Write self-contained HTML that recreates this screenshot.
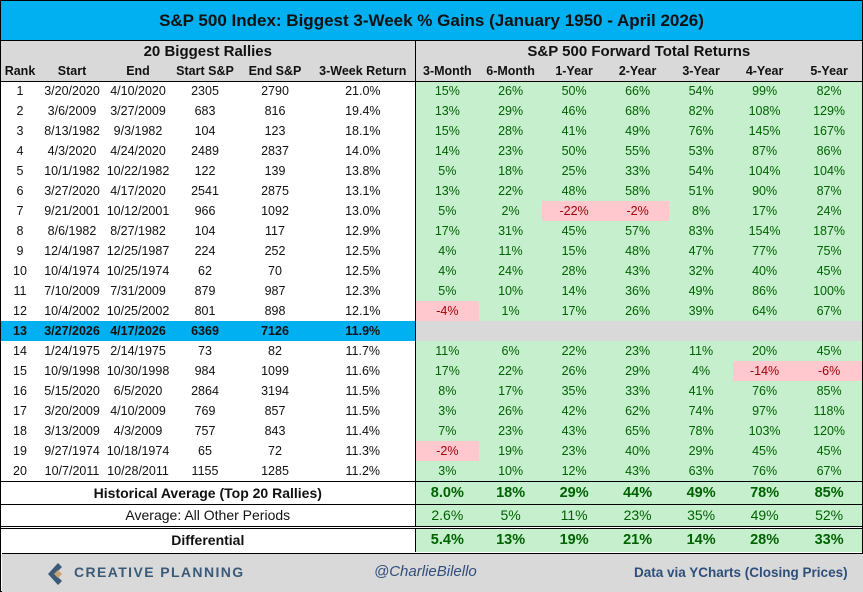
<!DOCTYPE html>
<html><head><style>
*{margin:0;padding:0;box-sizing:border-box}
body{width:863px;height:592px;overflow:hidden;background:#fff;font-family:"Liberation Sans",sans-serif;position:relative}
#wrap{position:absolute;left:0;top:0;width:863px;height:592px;border:1px solid #000}
.title{position:absolute;left:0;top:0;width:861px;height:40px;background:#00B0F0;border-bottom:1px solid #000;font-weight:bold;font-size:17px;text-align:center;line-height:40px;color:#111}
table{position:absolute;left:0;border-collapse:collapse;table-layout:fixed}
td{text-align:center;font-size:12.5px;height:20px;padding:0;white-space:nowrap;overflow:hidden;color:#111}
.g{background:#C6EFCE;color:#006100}
.r{background:#FFC7CE;color:#9C0006}
.h1 td{background:#D9D9D9;font-weight:bold;font-size:15px;height:21px}
.h2 td{background:#D9D9D9;font-weight:bold;font-size:12.5px;height:19px;border-bottom:1px solid #000}
.hl td.l{background:#00B0F0;font-weight:bold}
.hl td.gr{background:#D9D9D9}
.sep{border-left:1px solid #000}
.sum td{height:23px;font-size:14px;border-top:1px solid #000}
.b td{font-weight:bold}
.b td.g{font-size:14.5px}
.dbl td{border-top:3px double #000;height:25px}
.foot{position:absolute;left:1px;top:552px;width:861px;height:39px;background:#D9D9D9;border-top:1px solid #000}
</style></head><body><div id="wrap">
<div class="title">S&amp;P 500 Index: Biggest 3-Week % Gains (January 1950 - April 2026)</div>
<table style="top:40px;width:861px">
<colgroup><col style="width:38px"><col style="width:66px"><col style="width:66px"><col style="width:68px"><col style="width:72px"><col style="width:104px"><col style="width:64px"><col style="width:63px"><col style="width:64px"><col style="width:63px"><col style="width:64px"><col style="width:63px"><col style="width:66px"></colgroup>
<tr class="h1"><td colspan="6">20 Biggest Rallies</td><td colspan="7" class="sep">S&amp;P 500 Forward Total Returns</td></tr>
<tr class="h2"><td>Rank</td><td>Start</td><td>End</td><td>Start S&amp;P</td><td>End S&amp;P</td><td>3-Week Return</td><td class="sep">3-Month</td><td>6-Month</td><td>1-Year</td><td>2-Year</td><td>3-Year</td><td>4-Year</td><td>5-Year</td></tr>
<tr><td>1</td><td>3/20/2020</td><td>4/10/2020</td><td>2305</td><td>2790</td><td>21.0%</td><td class="g sep">15%</td><td class="g">26%</td><td class="g">50%</td><td class="g">66%</td><td class="g">54%</td><td class="g">99%</td><td class="g">82%</td></tr>
<tr><td>2</td><td>3/6/2009</td><td>3/27/2009</td><td>683</td><td>816</td><td>19.4%</td><td class="g sep">13%</td><td class="g">29%</td><td class="g">46%</td><td class="g">68%</td><td class="g">82%</td><td class="g">108%</td><td class="g">129%</td></tr>
<tr><td>3</td><td>8/13/1982</td><td>9/3/1982</td><td>104</td><td>123</td><td>18.1%</td><td class="g sep">15%</td><td class="g">28%</td><td class="g">41%</td><td class="g">49%</td><td class="g">76%</td><td class="g">145%</td><td class="g">167%</td></tr>
<tr><td>4</td><td>4/3/2020</td><td>4/24/2020</td><td>2489</td><td>2837</td><td>14.0%</td><td class="g sep">14%</td><td class="g">23%</td><td class="g">50%</td><td class="g">55%</td><td class="g">53%</td><td class="g">87%</td><td class="g">86%</td></tr>
<tr><td>5</td><td>10/1/1982</td><td>10/22/1982</td><td>122</td><td>139</td><td>13.8%</td><td class="g sep">5%</td><td class="g">18%</td><td class="g">25%</td><td class="g">33%</td><td class="g">54%</td><td class="g">104%</td><td class="g">104%</td></tr>
<tr><td>6</td><td>3/27/2020</td><td>4/17/2020</td><td>2541</td><td>2875</td><td>13.1%</td><td class="g sep">13%</td><td class="g">22%</td><td class="g">48%</td><td class="g">58%</td><td class="g">51%</td><td class="g">90%</td><td class="g">87%</td></tr>
<tr><td>7</td><td>9/21/2001</td><td>10/12/2001</td><td>966</td><td>1092</td><td>13.0%</td><td class="g sep">5%</td><td class="g">2%</td><td class="r">-22%</td><td class="r">-2%</td><td class="g">8%</td><td class="g">17%</td><td class="g">24%</td></tr>
<tr><td>8</td><td>8/6/1982</td><td>8/27/1982</td><td>104</td><td>117</td><td>12.9%</td><td class="g sep">17%</td><td class="g">31%</td><td class="g">45%</td><td class="g">57%</td><td class="g">83%</td><td class="g">154%</td><td class="g">187%</td></tr>
<tr><td>9</td><td>12/4/1987</td><td>12/25/1987</td><td>224</td><td>252</td><td>12.5%</td><td class="g sep">4%</td><td class="g">11%</td><td class="g">15%</td><td class="g">48%</td><td class="g">47%</td><td class="g">77%</td><td class="g">75%</td></tr>
<tr><td>10</td><td>10/4/1974</td><td>10/25/1974</td><td>62</td><td>70</td><td>12.5%</td><td class="g sep">4%</td><td class="g">24%</td><td class="g">28%</td><td class="g">43%</td><td class="g">32%</td><td class="g">40%</td><td class="g">45%</td></tr>
<tr><td>11</td><td>7/10/2009</td><td>7/31/2009</td><td>879</td><td>987</td><td>12.3%</td><td class="g sep">5%</td><td class="g">10%</td><td class="g">14%</td><td class="g">36%</td><td class="g">49%</td><td class="g">86%</td><td class="g">100%</td></tr>
<tr><td>12</td><td>10/4/2002</td><td>10/25/2002</td><td>801</td><td>898</td><td>12.1%</td><td class="r sep">-4%</td><td class="g">1%</td><td class="g">17%</td><td class="g">26%</td><td class="g">39%</td><td class="g">64%</td><td class="g">67%</td></tr>
<tr class="hl"><td class="l">13</td><td class="l">3/27/2026</td><td class="l">4/17/2026</td><td class="l">6369</td><td class="l">7126</td><td class="l">11.9%</td><td class="gr sep"></td><td class="gr"></td><td class="gr"></td><td class="gr"></td><td class="gr"></td><td class="gr"></td><td class="gr"></td></tr>
<tr><td>14</td><td>1/24/1975</td><td>2/14/1975</td><td>73</td><td>82</td><td>11.7%</td><td class="g sep">11%</td><td class="g">6%</td><td class="g">22%</td><td class="g">23%</td><td class="g">11%</td><td class="g">20%</td><td class="g">45%</td></tr>
<tr><td>15</td><td>10/9/1998</td><td>10/30/1998</td><td>984</td><td>1099</td><td>11.6%</td><td class="g sep">17%</td><td class="g">22%</td><td class="g">26%</td><td class="g">29%</td><td class="g">4%</td><td class="r">-14%</td><td class="r">-6%</td></tr>
<tr><td>16</td><td>5/15/2020</td><td>6/5/2020</td><td>2864</td><td>3194</td><td>11.5%</td><td class="g sep">8%</td><td class="g">17%</td><td class="g">35%</td><td class="g">33%</td><td class="g">41%</td><td class="g">76%</td><td class="g">85%</td></tr>
<tr><td>17</td><td>3/20/2009</td><td>4/10/2009</td><td>769</td><td>857</td><td>11.5%</td><td class="g sep">3%</td><td class="g">26%</td><td class="g">42%</td><td class="g">62%</td><td class="g">74%</td><td class="g">97%</td><td class="g">118%</td></tr>
<tr><td>18</td><td>3/13/2009</td><td>4/3/2009</td><td>757</td><td>843</td><td>11.4%</td><td class="g sep">7%</td><td class="g">23%</td><td class="g">43%</td><td class="g">65%</td><td class="g">78%</td><td class="g">103%</td><td class="g">120%</td></tr>
<tr><td>19</td><td>9/27/1974</td><td>10/18/1974</td><td>65</td><td>72</td><td>11.3%</td><td class="r sep">-2%</td><td class="g">19%</td><td class="g">23%</td><td class="g">40%</td><td class="g">29%</td><td class="g">45%</td><td class="g">45%</td></tr>
<tr><td>20</td><td>10/7/2011</td><td>10/28/2011</td><td>1155</td><td>1285</td><td>11.2%</td><td class="g sep">3%</td><td class="g">10%</td><td class="g">12%</td><td class="g">43%</td><td class="g">63%</td><td class="g">76%</td><td class="g">67%</td></tr>
<tr class="sum b"><td colspan="6">Historical Average (Top 20 Rallies)</td><td class="g sep">8.0%</td><td class="g">18%</td><td class="g">29%</td><td class="g">44%</td><td class="g">49%</td><td class="g">78%</td><td class="g">85%</td></tr>
<tr class="sum"><td colspan="6">Average: All Other Periods</td><td class="g sep">2.6%</td><td class="g">5%</td><td class="g">11%</td><td class="g">23%</td><td class="g">35%</td><td class="g">49%</td><td class="g">52%</td></tr>
<tr class="sum b dbl"><td colspan="6">Differential</td><td class="g sep">5.4%</td><td class="g">13%</td><td class="g">19%</td><td class="g">21%</td><td class="g">14%</td><td class="g">28%</td><td class="g">33%</td></tr>
</table>
<div class="foot">
<svg style="position:absolute;left:44px;top:8px" width="22" height="24" viewBox="0 0 22 24"><path d="M12 1 L2 12 L12 23 L16 19 L9 12 L16 5 Z" fill="#3a5a78"/><path d="M12 8 L16 12 L12 16 L8 12 Z" fill="#c8a272"/></svg>
<div style="position:absolute;left:72px;top:10px;font-size:14px;font-weight:bold;letter-spacing:1.4px;color:#3a5a78">CREATIVE PLANNING</div>
<div style="position:absolute;left:372px;top:9px;font-size:15px;font-style:italic;color:#2f4f7a">@CharlieBilello</div>
<div style="position:absolute;left:632px;top:11px;font-size:13.5px;font-weight:bold;color:#2f4f7a">Data via YCharts (Closing Prices)</div>
</div>
</div></body></html>
